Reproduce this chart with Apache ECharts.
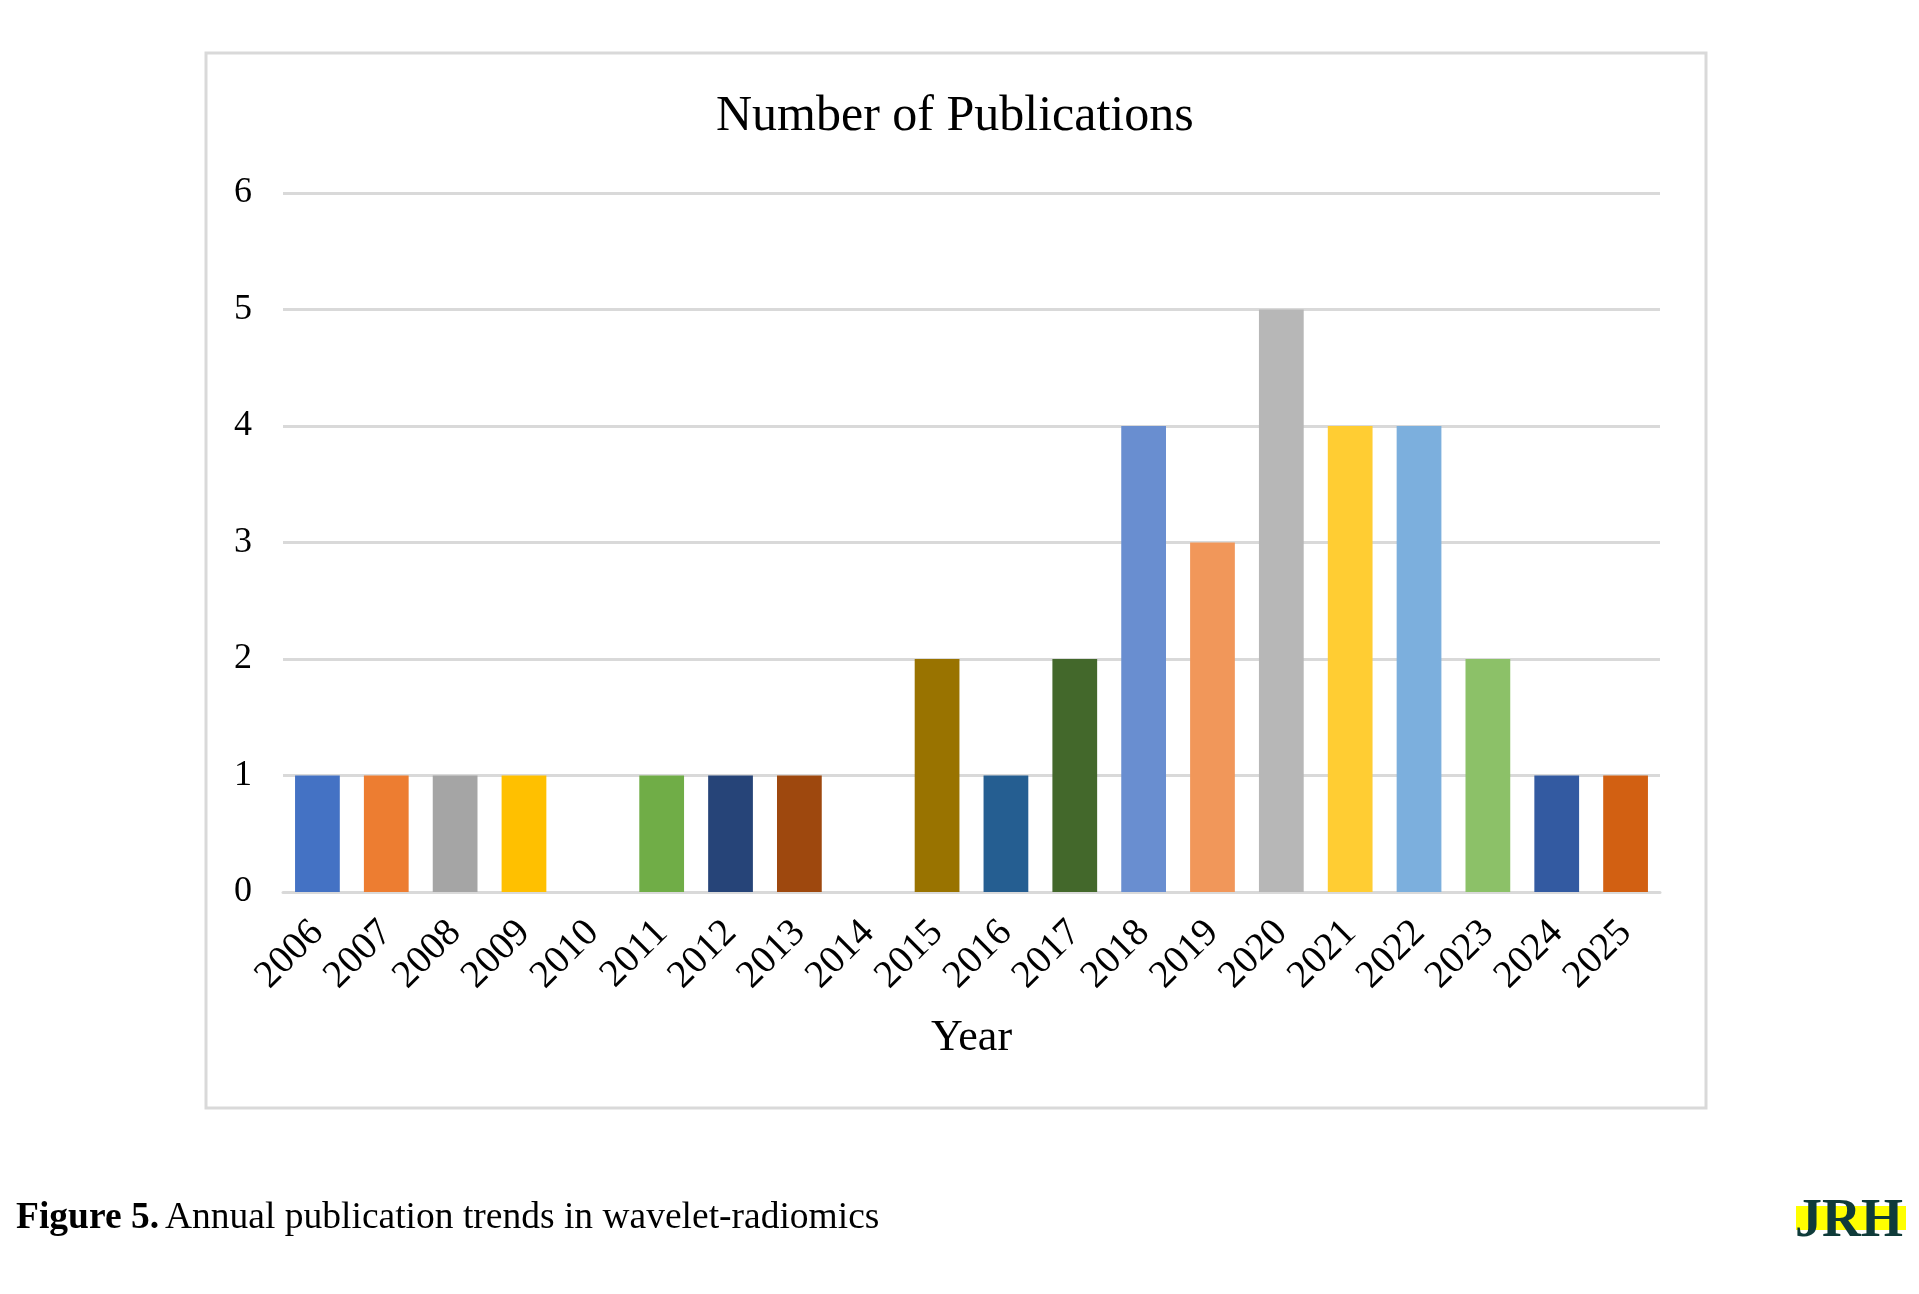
<!DOCTYPE html>
<html>
<head>
<meta charset="utf-8">
<script src="https://cdn.jsdelivr.net/npm/echarts@6/dist/echarts.min.js"></script>
<style>
html,body{margin:0;padding:0;background:#fff;}
#chart{width:1919px;height:1294px;}
</style>
</head>
<body>
<div id="chart"></div>
<script>
const years = ['2006','2007','2008','2009','2010','2011','2012','2013','2014','2015','2016','2017','2018','2019','2020','2021','2022','2023','2024','2025'];
const publications = [1,1,1,1,0,1,1,1,0,2,1,2,4,3,5,4,4,2,1,1];
const yTicks = [0,1,2,3,4,5,6];
const barColors = ['#4472C4','#ED7D31','#A5A5A5','#FFC000','#5B9BD5','#70AD47','#264478','#9E480E','#636363','#997300','#255E91','#43682B','#698ED0','#F1975A','#B7B7B7','#FFCD33','#7CAFDD','#8CC168','#335AA1','#D26012'];

const serif = '"Liberation Serif", "Times New Roman", serif';
const chart = echarts.init(document.getElementById('chart'), null, {renderer:'canvas'});
chart.setOption({
  animation:false,
  backgroundColor:'#ffffff',
  title:{
    text:'Number of Publications',
    left:711, top:87,
    textStyle:{fontFamily:serif, fontSize:50, fontWeight:'normal', color:'#000'}
  },
  grid:{left:283, right:259, top:193, bottom:402, containLabel:false},
  xAxis:{
    type:'category',
    data:years,
    axisTick:{show:false},
    axisLine:{lineStyle:{color:'#D9D9D9', width:3}},
    axisLabel:{rotate:45, fontSize:39, fontFamily:serif, color:'#000', margin:35, interval:0},
    name:'Year', nameLocation:'middle', nameGap:124,
    nameTextStyle:{fontFamily:serif, fontSize:44, color:'#000'}
  },
  yAxis:{
    type:'value',
    min:yTicks[0], max:yTicks[yTicks.length-1], interval:1,
    axisLine:{show:false}, axisTick:{show:false},
    splitLine:{lineStyle:{color:'#D9D9D9', width:3}},
    axisLabel:{fontSize:36, fontFamily:serif, color:'#000', margin:31}
  },
  series:[{
    type:'bar',
    data:publications,
    barCategoryGap:'35%',
    itemStyle:{color:p=>barColors[p.dataIndex]}
  }],
  graphic:[
    {type:'rect', shape:{x:206, y:53, width:1500, height:1055}, style:{fill:null, stroke:'#D9D9D9', lineWidth:3}, z:-10},
    {type:'text', left:16, top:1199, style:{
      rich:{b:{fontWeight:'bold', fontFamily:serif, fontSize:37.5, fill:'#000'}, r:{fontFamily:serif, fontSize:37.5, fill:'#000', padding:[0,0,0,6]}},
      text:'{b|Figure 5.}{r|Annual publication trends in wavelet-radiomics}'
    }},
    {type:'rect', shape:{x:1796, y:1206, width:110, height:24}, style:{fill:'#FFFF00'}},
    {type:'text', left:1795, top:1195, style:{text:'JRH', fontFamily:serif, fontWeight:'bold', fontSize:54, fill:'#0F3B3A', letterSpacing:1}}
  ]
});
</script>
</body>
</html>
